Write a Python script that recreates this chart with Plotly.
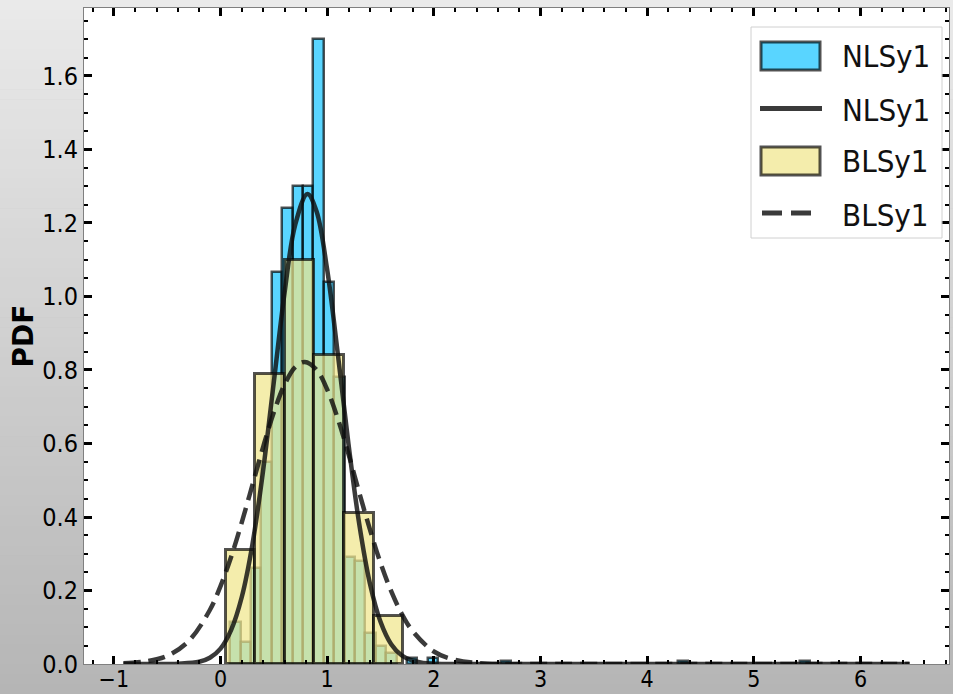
import plotly.graph_objects as go

# ---------------- data ----------------
nlsy1_bin_width = 0.0975
nlsy1_bin_left = [0.09, 0.1875, 0.285, 0.3825, 0.48, 0.5775, 0.675, 0.7725, 0.87, 0.9675,
                  1.065, 1.1625, 1.26, 1.3575, 1.455, 1.5525, 1.7475, 1.9425,
                  2.625, 4.29, 5.43]
nlsy1_pdf = [0.115, 0.06, 0.26, 0.55, 1.066, 1.24, 1.30, 1.30, 1.70, 1.04,
             0.78, 0.29, 0.28, 0.085, 0.05, 0.03, 0.015, 0.015,
             0.008, 0.008, 0.008]

blsy1_bin_width = 0.277
blsy1_bin_left = [0.05, 0.327, 0.604, 0.881, 1.158, 1.435]
blsy1_pdf = [0.31, 0.79, 1.10, 0.84, 0.41, 0.13]

nlsy1_fit_x = [-0.91, -0.6, -0.4, -0.2, -0.1, 0.0, 0.1, 0.2, 0.3, 0.4, 0.5, 0.6, 0.7, 0.815,
               0.9, 1.0, 1.1, 1.2, 1.3, 1.4, 1.5, 1.6, 1.7, 1.8, 1.9, 2.0, 2.2, 2.6, 3.5,
               4.5, 5.5, 6.46]
nlsy1_fit_y = [0, 0, 0.001, 0.006, 0.017, 0.042, 0.093, 0.183, 0.327, 0.528, 0.768, 1.009,
               1.195, 1.279, 1.232, 1.073, 0.843, 0.598, 0.382, 0.220, 0.115, 0.054, 0.023,
               0.009, 0.003, 0.001, 0, 0, 0, 0, 0, 0]

blsy1_fit_x = [-0.91, -0.7, -0.5, -0.3, -0.1, 0.0, 0.1, 0.2, 0.3, 0.4, 0.5, 0.6, 0.7, 0.79,
               0.9, 1.0, 1.1, 1.2, 1.3, 1.4, 1.5, 1.6, 1.7, 1.8, 2.0, 2.2, 2.5, 3.0, 4.0,
               5.0, 6.0, 6.46]
blsy1_fit_y = [0.002, 0.007, 0.022, 0.062, 0.147, 0.212, 0.292, 0.386, 0.488, 0.591, 0.685,
               0.760, 0.808, 0.822, 0.801, 0.747, 0.667, 0.571, 0.467, 0.367, 0.275, 0.198,
               0.136, 0.090, 0.034, 0.011, 0.001, 0, 0, 0, 0, 0]

legend_labels = ["NLSy1", "NLSy1", "BLSy1", "BLSy1"]
y_title = "PDF"
x_range = [-1.28, 6.83]
y_range = [0, 1.785]

# ---------------- styles ----------------
W, H = 953, 694
L, R, T, B = 84, 4, 8, 30
PW, PH = W - L - R, H - T - B

BLUE = "rgba(0,191,255,0.65)"
KHAKI = "rgba(240,230,140,0.72)"
EDGE = "rgba(0,0,0,0.68)"
CURVE = "rgba(15,15,15,0.82)"
FONT = "DejaVu Sans Condensed, DejaVu Sans, sans-serif"
TOP_GRAY, BOTTOM_GRAY = 234, 181


def px_x(x):
    return (x - L) / PW


def px_y(y):
    return (H - B - y) / PH


fig = go.Figure()

fig.add_trace(go.Bar(
    x=[l + nlsy1_bin_width / 2 for l in nlsy1_bin_left], y=nlsy1_pdf,
    width=[nlsy1_bin_width] * len(nlsy1_pdf),
    marker=dict(color=BLUE, line=dict(color=EDGE, width=2.5)),
    name=legend_labels[0], showlegend=False))

fig.add_trace(go.Bar(
    x=[l + blsy1_bin_width / 2 for l in blsy1_bin_left], y=blsy1_pdf,
    width=[blsy1_bin_width] * len(blsy1_pdf),
    marker=dict(color=KHAKI, line=dict(color=EDGE, width=3)),
    name=legend_labels[2], showlegend=False))

fig.add_trace(go.Scatter(
    x=nlsy1_fit_x, y=nlsy1_fit_y, mode="lines", line_shape="spline",
    line=dict(color=CURVE, width=4.5), name=legend_labels[1], showlegend=False))

fig.add_trace(go.Scatter(
    x=blsy1_fit_x, y=blsy1_fit_y, mode="lines", line_shape="spline",
    line=dict(color=CURVE, width=4.5, dash="17px,8px"), name=legend_labels[3],
    showlegend=False))

# ---------------- background gradient ----------------
shapes = []
N = 70
for i in range(N):
    y0p = i * H / N
    y1p = (i + 1) * H / N + 0.6
    t = (i + 0.5) / N
    c = int(round(TOP_GRAY - (TOP_GRAY - BOTTOM_GRAY) * t))
    shapes.append(dict(type="rect", xref="paper", yref="paper", layer="below",
                       x0=px_x(-2), x1=px_x(W + 2), y0=px_y(y1p + (4 if i == N - 1 else 0)),
                       y1=px_y(y0p - (4 if i == 0 else 0)),
                       fillcolor=f"rgb({c},{c},{c})", line=dict(width=0)))
shapes.append(dict(type="rect", xref="paper", yref="paper", layer="below",
                   x0=0, x1=1, y0=0, y1=1, fillcolor="white", line=dict(width=0)))

# ---------------- legend (drawn) ----------------
shapes.append(dict(type="rect", xref="paper", yref="paper", layer="above",
                   x0=px_x(751), x1=px_x(942), y0=px_y(238), y1=px_y(27),
                   fillcolor="rgba(255,255,255,0.85)", line=dict(color="#d0d0d0", width=1)))
shapes.append(dict(type="rect", xref="paper", yref="paper", layer="above",
                   x0=px_x(761), x1=px_x(820), y0=px_y(70), y1=px_y(42),
                   fillcolor=BLUE, line=dict(color=EDGE, width=3)))
shapes.append(dict(type="line", xref="paper", yref="paper", layer="above",
                   x0=px_x(760), x1=px_x(822), y0=px_y(108.5), y1=px_y(108.5),
                   line=dict(color=CURVE, width=5)))
shapes.append(dict(type="rect", xref="paper", yref="paper", layer="above",
                   x0=px_x(761), x1=px_x(820), y0=px_y(175), y1=px_y(147),
                   fillcolor=KHAKI, line=dict(color=EDGE, width=3)))
shapes.append(dict(type="line", xref="paper", yref="paper", layer="above",
                   x0=px_x(762), x1=px_x(812), y0=px_y(213), y1=px_y(213),
                   line=dict(color=CURVE, width=5, dash="20px,9px")))

annotations = []
for lab, yy in zip(legend_labels, [56, 110, 161, 215]):
    annotations.append(dict(text=lab, xref="paper", yref="paper", x=px_x(840), y=px_y(yy),
                            xanchor="left", yanchor="middle", showarrow=False,
                            font=dict(family=FONT, size=31, color="#111")))

axis_common = dict(
    showline=True, linecolor="#808080", linewidth=1, mirror="allticks",
    ticks="inside", ticklen=8, tickwidth=3, tickcolor="black",
    showgrid=False, zeroline=False, automargin=False,
)

fig.update_layout(
    width=W, height=H, autosize=False,
    margin=dict(l=L, r=R, t=T, b=B, pad=0),
    paper_bgcolor=f"rgb({BOTTOM_GRAY},{BOTTOM_GRAY},{BOTTOM_GRAY})", plot_bgcolor="white",
    barmode="overlay", bargap=0,
    shapes=shapes, annotations=annotations, showlegend=False,
    xaxis=dict(range=x_range, tick0=0, dtick=1, ticklabelstandoff=-6,
               tickfont=dict(family=FONT, size=23, color="black"),
               minor=dict(ticks="inside", ticklen=4, tickwidth=2, tickcolor="black", dtick=0.2),
               **axis_common),
    yaxis=dict(range=y_range, tick0=0, dtick=0.2, tickformat=".1f",
               tickfont=dict(family=FONT, size=25, color="black"),
               minor=dict(ticks="inside", ticklen=4, tickwidth=2, tickcolor="black", dtick=0.05),
               title=dict(text="<b>" + y_title + "</b>", standoff=0,
                          font=dict(family="DejaVu Sans, sans-serif", size=28, color="black")),
               **axis_common),
)

fig.write_html(
    "out.html",
    config={"displayModeBar": False},
    post_script="document.documentElement.style.margin='0';"
                "document.body.style.margin='0';document.body.style.padding='0';"
                "document.body.style.overflow='hidden';"
                "document.documentElement.style.background='rgb(181,181,181)';"
                "document.body.style.background='rgb(181,181,181)';",
)
